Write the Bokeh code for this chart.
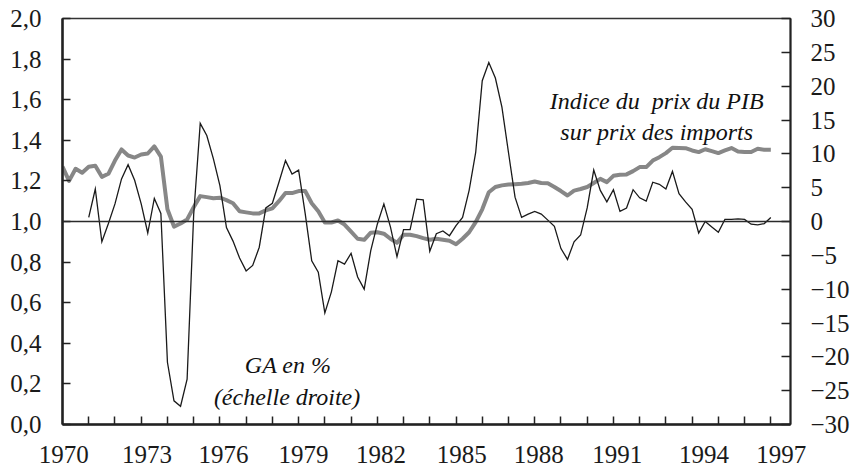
from bokeh.plotting import figure
from bokeh.models import (Range1d, LinearAxis, FixedTicker, CustomJSTickFormatter,
                          Span, Label, ColumnDataSource)
from bokeh.embed import file_html
from bokeh.resources import INLINE

# ---------------- data (quarterly) ----------------
ratio_start = 1970.0   # Indice du prix du PIB sur prix des imports (left axis)
ratio = [
    1.27, 1.20, 1.26, 1.24,
    1.27, 1.275, 1.22, 1.235,
    1.30, 1.355, 1.325, 1.315,
    1.33, 1.335, 1.37, 1.32,
    1.06, 0.975, 0.99, 1.01,
    1.07, 1.125, 1.12, 1.115,
    1.117, 1.105, 1.09, 1.05,
    1.045, 1.04, 1.04, 1.055,
    1.065, 1.10, 1.14, 1.14,
    1.15, 1.15, 1.09, 1.05,
    0.995, 0.995, 1.005, 0.985,
    0.95, 0.915, 0.91, 0.945,
    0.947, 0.94, 0.915, 0.895,
    0.935, 0.935, 0.928, 0.918,
    0.91, 0.915, 0.91, 0.905,
    0.888, 0.915, 0.947, 0.997,
    1.06, 1.144, 1.17, 1.178,
    1.182, 1.184, 1.186, 1.19,
    1.197, 1.19, 1.188, 1.17,
    1.15, 1.128, 1.152, 1.16,
    1.17, 1.19, 1.21, 1.194,
    1.225, 1.23, 1.232, 1.248,
    1.268, 1.268, 1.30, 1.317,
    1.337, 1.363, 1.362, 1.361,
    1.35, 1.342, 1.356, 1.347,
    1.337, 1.35, 1.362, 1.345,
    1.342, 1.342, 1.358, 1.353,
    1.353,
]

ga_start = 1971.0      # GA en % (right axis)
ga = [
    0.6, 4.8, -3.0, -0.3,
    2.6, 6.3, 8.4, 6.1,
    2.6, -1.7, 3.4, 1.2,
    -20.8, -26.5, -27.3, -23.3,
    1.0, 14.5, 12.7, 9.3,
    5.3, -0.9, -2.9, -5.4,
    -7.3, -6.5, -3.8, 2.0,
    2.7, 5.8, 9.0, 7.0,
    7.6, 1.2, -5.8, -7.5,
    -13.5, -10.4, -5.8, -6.3,
    -4.7, -8.2, -10.0, -4.3,
    -0.4, 2.6, -0.8, -5.2,
    -1.2, -1.2, 3.3, 3.2,
    -4.4, -1.8, -1.4, -2.1,
    -0.6, 0.6, 4.6, 10.2,
    20.8, 23.5, 21.2, 16.9,
    10.2, 3.6, 0.6, 1.1,
    1.5, 1.1, 0.2, -0.7,
    -4.0, -5.6, -3.0, -2.0,
    2.0, 7.6, 4.6, 2.9,
    4.7, 1.5, 2.0, 4.7,
    3.5, 3.0, 5.8, 5.5,
    4.8, 7.4, 4.1, 2.9,
    1.8, -1.7, 0.0, -0.8,
    -1.6, 0.3, 0.3, 0.4,
    0.3, -0.4, -0.5, -0.3,
    0.6,
]

year_labels = [1970, 1973, 1976, 1979, 1982, 1985, 1988, 1991, 1994, 1997]
left_ticks = [0.0, 0.2, 0.4, 0.6, 0.8, 1.0, 1.2, 1.4, 1.6, 1.8, 2.0]
right_ticks = [-30, -25, -20, -15, -10, -5, 0, 5, 10, 15, 20, 25, 30]

# ---------------- figure ----------------
FONT = "Liberation Serif"
p = figure(frame_width=728, frame_height=406, output_backend="svg",
           toolbar_location=None, x_range=Range1d(1970, 1997.75),
           y_range=Range1d(0, 2))
p.min_border_left = 62
p.min_border_right = 58
p.min_border_top = 18
p.min_border_bottom = 43
p.background_fill_color = "white"
p.border_fill_color = "white"
p.xgrid.visible = False
p.ygrid.visible = False
p.outline_line_color = "#333333"
p.outline_line_width = 1.5
p.extra_y_ranges = {"right": Range1d(-30, 30)}

# x axis: labels slightly offset from yearly ticks (as in the original)
label_offsets = [0.05, 0.22, 0.14, 0.19, 0.14, 0.22, 0.15, 0.15, 0.45, 0.4]
xa = p.xaxis[0]
xa.ticker = FixedTicker(ticks=[y + o for y, o in zip(year_labels, label_offsets)],
                        minor_ticks=list(range(1971, 1998)))
xa.formatter = CustomJSTickFormatter(code="return String(Math.round(tick));")
xa.major_tick_line_color = None
xa.minor_tick_in = 8
xa.minor_tick_out = 0
xa.minor_tick_line_color = "#222222"
xa.minor_tick_line_width = 1.5
xa.axis_line_color = "#222222"
xa.axis_line_width = 2.5
xa.major_label_standoff = 15
xa.major_label_text_font = FONT
xa.major_label_text_font_size = "25px"
xa.major_label_text_color = "#1a1a1a"

ya = p.yaxis[0]
ya.ticker = FixedTicker(ticks=left_ticks, minor_ticks=[])
ya.formatter = CustomJSTickFormatter(code="return tick.toFixed(1).replace('.', ',');")
ya.major_tick_in = 8
ya.major_tick_out = 0
ya.minor_tick_line_color = None
ya.major_tick_line_color = "#222222"
ya.major_tick_line_width = 1.5
ya.axis_line_color = "#222222"
ya.axis_line_width = 2.5
ya.major_label_standoff = 21
ya.major_label_text_font = FONT
ya.major_label_text_font_size = "25px"
ya.major_label_text_color = "#1a1a1a"

ra = LinearAxis(y_range_name="right")
ra.ticker = FixedTicker(ticks=right_ticks, minor_ticks=[])
ra.major_tick_in = 9
ra.major_tick_out = 0
ra.minor_tick_line_color = None
ra.major_tick_line_color = "#222222"
ra.major_tick_line_width = 1.5
ra.axis_line_color = "#222222"
ra.axis_line_width = 2
ra.major_label_standoff = 20
ra.major_label_text_font = FONT
ra.major_label_text_font_size = "25px"
ra.major_label_text_color = "#1a1a1a"
p.add_layout(ra, "right")

# zero line (1.0 on left axis = 0 on right axis)
p.add_layout(Span(location=1.0, dimension="width", line_color="#2a2a2a",
                  line_width=1.5))

# series
src_ratio = ColumnDataSource(dict(
    x=[ratio_start + i / 4 for i in range(len(ratio))], y=ratio))
src_ga = ColumnDataSource(dict(
    x=[ga_start + i / 4 for i in range(len(ga))], y=ga))

p.line("x", "y", source=src_ratio, line_color="#878787", line_width=4,
       line_join="round")
p.line("x", "y", source=src_ga, y_range_name="right", line_color="#1a1a1a",
       line_width=1.3, line_join="miter")

# annotations
for txt, xx, yy in [("Indice du\u00a0 prix du PIB", 1992.65, 1.596),
                    ("sur prix des imports", 1992.65, 1.44),
                    ("GA en %", 1978.6, 0.291),
                    ("(échelle droite)", 1978.56, 0.134)]:
    p.add_layout(Label(x=xx, y=yy, text=txt, text_font=FONT,
                       text_font_style="italic", text_font_size="24px",
                       text_align="center", text_baseline="alphabetic",
                       text_color="#111111"))

open("out.html", "w").write(file_html(p, INLINE))
